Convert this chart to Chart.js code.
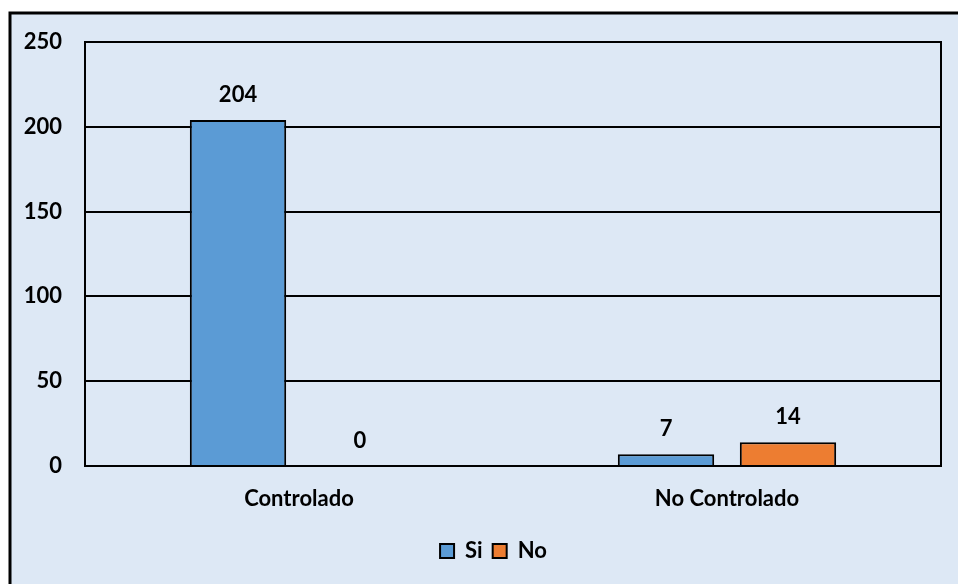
<!DOCTYPE html>
<html>
<head>
<meta charset="utf-8">
<script src="https://cdn.jsdelivr.net/npm/chart.js@4/dist/chart.umd.min.js"></script>
<style>
  html, body { margin: 0; padding: 0; background: #ffffff; }
  #wrap { position: relative; width: 958px; height: 584px; }
</style>
</head>
<body>
<div id="wrap"><canvas id="c" width="958" height="584"></canvas></div>
<script>
const categories = ['Controlado', 'No Controlado'];
const seriesNames = ['Si', 'No'];
const siValues = [204, 7];
const noValues = [0, 14];
const yTicks = [0, 50, 100, 150, 200, 250];

const FONT = { family: 'Lato, "Open Sans", sans-serif', size: 22, weight: 'bold' };
const PANEL = '#dde8f5';

// Panel background with a heavy frame that runs off the right and bottom edges,
// plus the box around the plotting area
const framePlugin = {
  id: 'frame',
  beforeDraw(chart) {
    const ctx = chart.ctx;
    ctx.save();
    ctx.fillStyle = '#ffffff';
    ctx.fillRect(0, 0, chart.width, chart.height);
    ctx.fillStyle = PANEL;
    ctx.fillRect(10, 13, chart.width + 10, chart.height + 10);
    ctx.strokeStyle = '#000000';
    ctx.lineWidth = 3;
    ctx.strokeRect(10, 13, chart.width + 10, chart.height + 10);
    ctx.restore();
  },
  afterDatasetsDraw(chart) {
    const a = chart.chartArea;
    const ctx = chart.ctx;
    ctx.save();
    ctx.strokeStyle = '#000000';
    ctx.lineWidth = 2;
    ctx.strokeRect(a.left, a.top, a.right - a.left, a.bottom - a.top);
    ctx.restore();
  }
};

// Center the legend under the whole panel rather than the padded canvas
const legendShift = {
  id: 'legendShift',
  afterLayout(chart) {
    if (chart.legend) {
      chart.legend.left += 23;
      chart.legend.right += 23;
    }
  }
};

// Value labels above each bar
const valueLabels = {
  id: 'valueLabels',
  afterDatasetsDraw(chart) {
    const ctx = chart.ctx;
    ctx.save();
    ctx.font = `${FONT.weight} ${FONT.size}px ${FONT.family}`;
    ctx.fillStyle = '#000000';
    ctx.textAlign = 'center';
    ctx.textBaseline = 'middle';
    chart.data.datasets.forEach((ds, di) => {
      chart.getDatasetMeta(di).data.forEach((bar, i) => {
        ctx.fillText(String(ds.data[i]), bar.x, bar.y - 25);
      });
    });
    ctx.restore();
  }
};

new Chart(document.getElementById('c'), {
  type: 'bar',
  data: {
    labels: categories,
    datasets: [
      { label: seriesNames[0], data: siValues, backgroundColor: '#5b9bd5', borderColor: '#000000', borderWidth: 2 },
      { label: seriesNames[1], data: noValues, backgroundColor: '#ed7d31', borderColor: '#000000', borderWidth: 2 }
    ]
  },
  options: {
    responsive: false,
    animation: false,
    devicePixelRatio: 1,
    categoryPercentage: 0.57,
    barPercentage: 0.79,
    layout: { padding: { top: 42, right: 17, left: 0, bottom: 12 } },
    plugins: {
      tooltip: { enabled: false },
      legend: {
        position: 'bottom',
        labels: {
          boxWidth: 14,
          boxHeight: 14,
          padding: 10,
          color: '#000000',
          font: FONT,
          generateLabels(chart) {
            return chart.data.datasets.map((ds, i) => ({
              text: ds.label,
              fillStyle: ds.backgroundColor,
              strokeStyle: '#000000',
              lineWidth: 2,
              fontColor: '#000000',
              datasetIndex: i,
              hidden: false
            }));
          }
        }
      }
    },
    scales: {
      x: {
        grid: { display: false },
        border: { display: false },
        ticks: { color: '#000000', font: FONT, padding: 12 },
        afterFit(scale) { scale.height = 64; }
      },
      y: {
        min: 0,
        max: 250,
        afterBuildTicks(scale) { scale.ticks = yTicks.map(v => ({ value: v })); },
        grid: { color: '#000000', lineWidth: 2, drawTicks: false },
        border: { display: true, color: '#000000', width: 2 },
        ticks: { color: '#000000', font: FONT, padding: 23 },
        afterFit(scale) { scale.width = 85; }
      }
    }
  },
  plugins: [framePlugin, legendShift, valueLabels]
});
</script>
</body>
</html>
